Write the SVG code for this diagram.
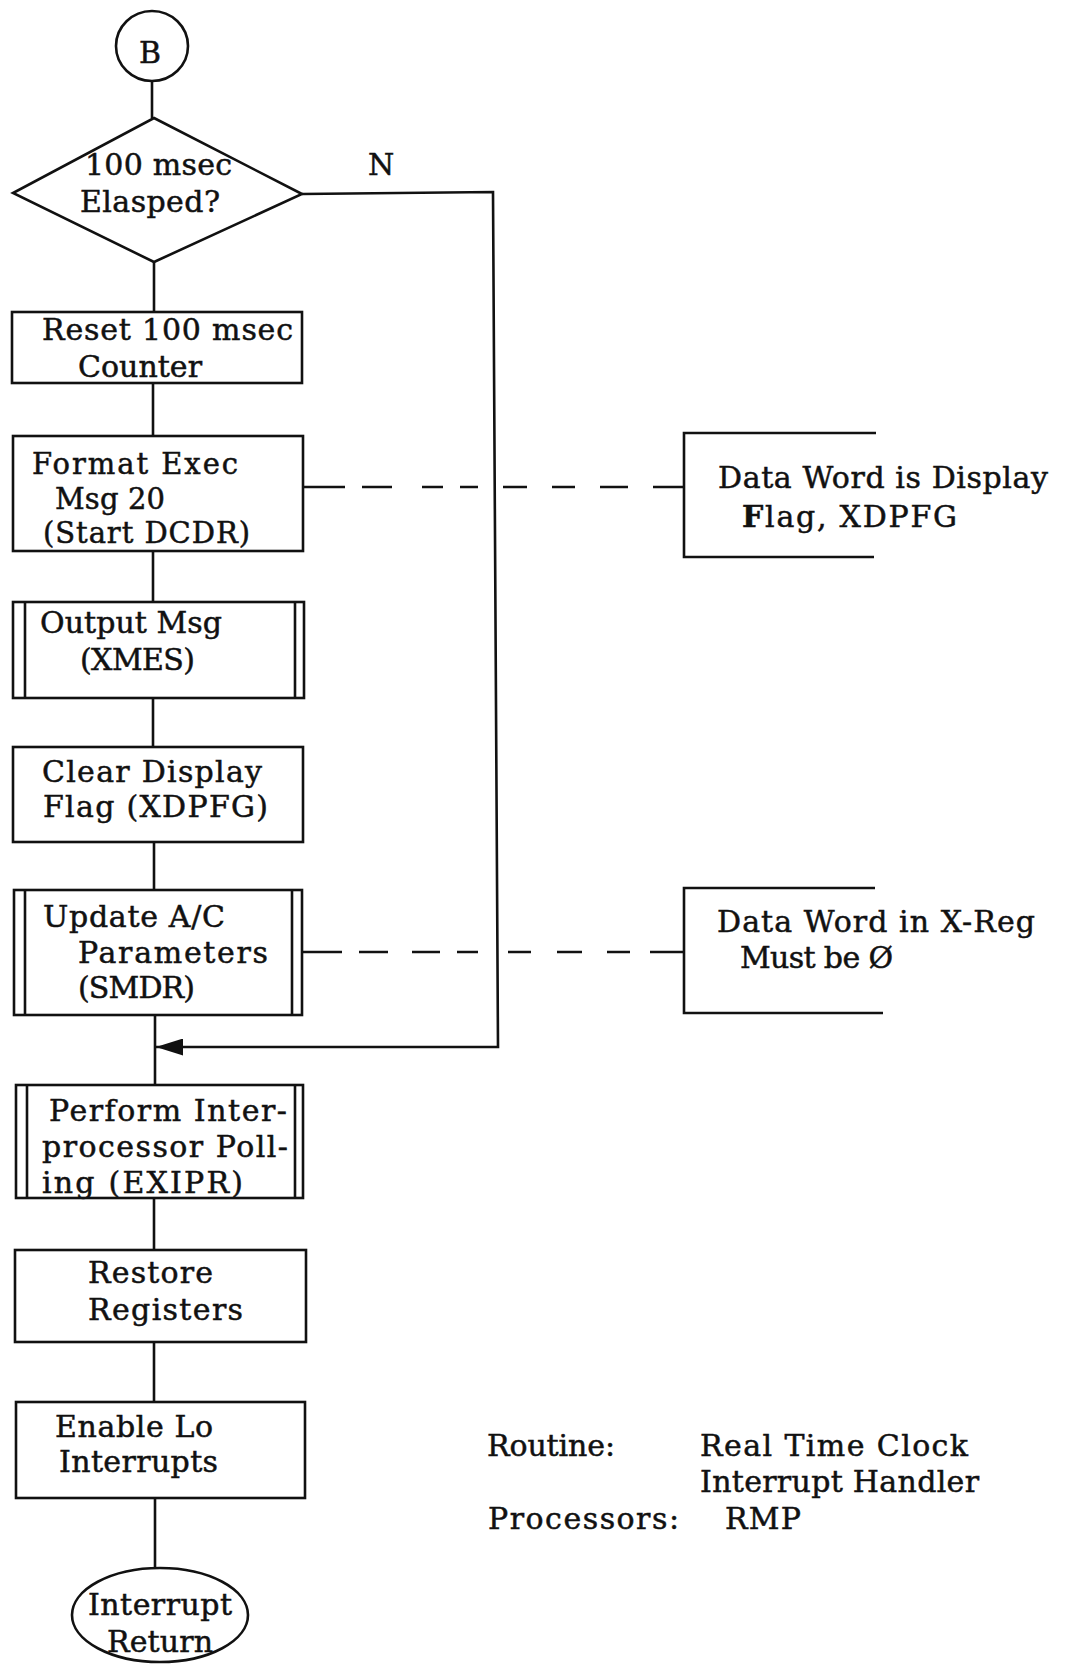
<svg xmlns="http://www.w3.org/2000/svg" width="1068" height="1665" viewBox="0 0 1068 1665">
<defs>
<style>
.s{fill:none;stroke:#111;stroke-width:2.6;stroke-linejoin:miter}
.c{fill:none;stroke:#111;stroke-width:2.6}
.t{font-family:"DejaVu Serif","Liberation Serif",serif;font-size:30px;fill:#111;stroke:#111;stroke-width:0.5}
.f{font-size:29px}
</style>
<marker id="arr" viewBox="0 0 10 10" refX="10" refY="5" markerUnits="userSpaceOnUse" markerWidth="27" markerHeight="17" orient="auto" preserveAspectRatio="none">
<path d="M0,0 L10,5 L0,10 z" fill="#111"/>
</marker>
</defs>
<rect width="1068" height="1665" fill="#fff"/>

<g id="connectors">
<path class="c" d="M152 81 V118"/>
<path class="c" d="M154 262 V312"/>
<path class="c" d="M153 383 V436"/>
<path class="c" d="M153 551 V602"/>
<path class="c" d="M153 698 V747"/>
<path class="c" d="M154 842 V890"/>
<path class="c" d="M155 1015 V1085"/>
<path class="c" d="M154 1198 V1250"/>
<path class="c" d="M154 1342 V1402"/>
<path class="c" d="M155 1498 V1568"/>
<path class="c" d="M302 194 L493 192 L498 1047 H156" marker-end="url(#arr)"/>
<path class="c" d="M303 487 H345 M362 487 H392 M422 487 H443 M460 487 H478 M503 487 H527 M552 487 H575 M600 487 H628 M653 487 H684"/>
<path class="c" d="M302 952 H342 M359 952 H388 M412 952 H440 M457 952 H478 M508 952 H531 M557 952 H582 M607 952 H630 M650 952 H684"/>
</g>

<g id="nodeB">
<ellipse class="s" cx="152" cy="46" rx="36" ry="35"/>
<text class="t" x="150" y="63" text-anchor="middle">B</text>
</g>

<g id="decision">
<path class="s" d="M154 118 L302 194 L154 262 L13 193 Z"/>
<text class="t" x="85" y="175" textLength="147" lengthAdjust="spacing">100 msec</text>
<text class="t" x="80" y="212" textLength="140" lengthAdjust="spacing">Elasped?</text>
<text class="t" x="368" y="175">N</text>
</g>

<g id="reset">
<rect class="s" x="12" y="312" width="290" height="71"/>
<text class="t" x="42" y="340" textLength="251" lengthAdjust="spacing">Reset 100 msec</text>
<text class="t" x="78" y="377" textLength="124" lengthAdjust="spacing">Counter</text>
</g>

<g id="format">
<rect class="s" x="13" y="436" width="290" height="115"/>
<text class="t f" x="32" y="474" textLength="206" lengthAdjust="spacing">Format Exec</text>
<text class="t f" x="55" y="509" textLength="110" lengthAdjust="spacing">Msg 20</text>
<text class="t f" x="43" y="543" textLength="207" lengthAdjust="spacing">(Start DCDR)</text>
</g>

<g id="note1">
<path class="s" d="M876 433 H684 V557 H874"/>
<text class="t" x="718" y="488" textLength="330" lengthAdjust="spacing">Data Word is Display</text>
<text class="t" x="742" y="527" textLength="215" lengthAdjust="spacing"><tspan font-weight="bold">F</tspan>lag,  XDPFG</text>
</g>

<g id="output">
<rect class="s" x="13" y="602" width="291" height="96"/>
<path class="s" d="M25 602 V698 M295 602 V698"/>
<text class="t" x="40" y="633" textLength="182" lengthAdjust="spacing">Output Msg</text>
<text class="t" x="80" y="670" textLength="115" lengthAdjust="spacing">(XMES)</text>
</g>

<g id="clear">
<rect class="s" x="13" y="747" width="290" height="95"/>
<text class="t" x="42" y="782" textLength="220" lengthAdjust="spacing">Clear Display</text>
<text class="t" x="43" y="817" textLength="225" lengthAdjust="spacing">Flag (XDPFG)</text>
</g>

<g id="update">
<rect class="s" x="14" y="890" width="288" height="125"/>
<path class="s" d="M25 890 V1015 M292 890 V1015"/>
<text class="t" x="43" y="927" textLength="182" lengthAdjust="spacing">Update A/C</text>
<text class="t" x="78" y="963" textLength="190" lengthAdjust="spacing">Parameters</text>
<text class="t" x="78" y="998" textLength="117" lengthAdjust="spacing">(SMDR)</text>
</g>

<g id="note2">
<path class="s" d="M875 888 H684 V1013 H883"/>
<text class="t" x="717" y="932" textLength="318" lengthAdjust="spacing">Data Word in X-Reg</text>
<text class="t" x="740" y="968" textLength="153" lengthAdjust="spacing">Must be Ø</text>
</g>

<g id="perform">
<rect class="s" x="16" y="1085" width="287" height="113"/>
<path class="s" d="M27 1085 V1198 M295 1085 V1198"/>
<text class="t" x="49" y="1121" textLength="238" lengthAdjust="spacing">Perform Inter-</text>
<text class="t" x="42" y="1157" textLength="246" lengthAdjust="spacing">processor Poll-</text>
<text class="t" x="42" y="1193" textLength="201" lengthAdjust="spacing">ing  (EXIPR)</text>
</g>

<g id="restore">
<rect class="s" x="15" y="1250" width="291" height="92"/>
<text class="t" x="88" y="1283" textLength="125" lengthAdjust="spacing">Restore</text>
<text class="t" x="88" y="1320" textLength="155" lengthAdjust="spacing">Registers</text>
</g>

<g id="enable">
<rect class="s" x="16" y="1402" width="289" height="96"/>
<text class="t" x="55" y="1437" textLength="158" lengthAdjust="spacing">Enable Lo</text>
<text class="t" x="59" y="1472" textLength="159" lengthAdjust="spacing">Interrupts</text>
</g>

<g id="return">
<ellipse class="s" cx="160" cy="1615" rx="88" ry="47"/>
<text class="t" x="88" y="1615" textLength="144" lengthAdjust="spacing">Interrupt</text>
<text class="t" x="107" y="1652" textLength="106" lengthAdjust="spacing">Return</text>
</g>

<g id="legend">
<text class="t" x="487" y="1456" textLength="128" lengthAdjust="spacing">Routine:</text>
<text class="t" x="700" y="1456" textLength="268" lengthAdjust="spacing">Real Time Clock</text>
<text class="t" x="700" y="1492" textLength="279" lengthAdjust="spacing">Interrupt Handler</text>
<text class="t" x="488" y="1529" textLength="191" lengthAdjust="spacing">Processors:</text>
<text class="t" x="725" y="1529" textLength="76" lengthAdjust="spacing">RMP</text>
</g>
</svg>
